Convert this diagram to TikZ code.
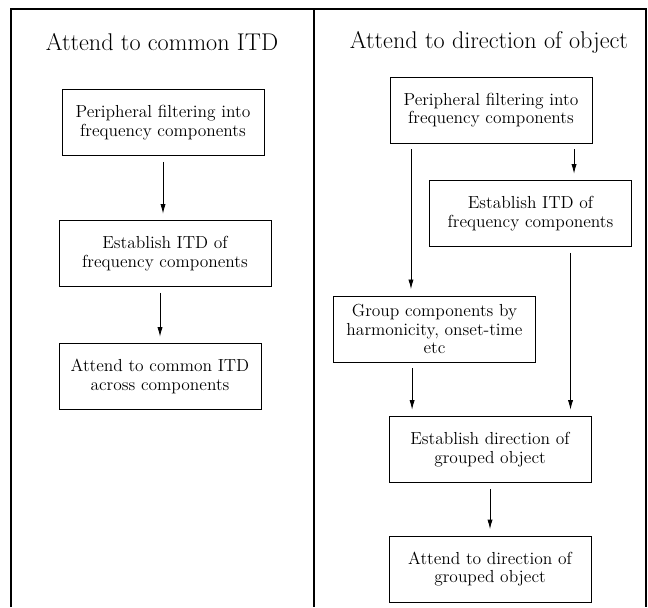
\documentclass[tikz,border=0pt]{standalone}
\usepackage{tikz}
\usetikzlibrary{arrows.meta,calc}

\tikzset{
  box/.style={draw, line width=0.6pt, align=center, minimum width=5.05cm,
    minimum height=1.65cm, inner sep=2pt, font=\fontsize{12.4}{13.2}\selectfont},
  arr/.style={-{Latex[length=2.4mm,width=1.3mm]}, line width=0.6pt,
    shorten <=1.5mm, shorten >=1.6mm},
  ttl/.style={font=\fontsize{17.2}{20}\selectfont}
}

\begin{document}
\begin{tikzpicture}[x=0.025cm, y=-0.025cm]
  \useasboundingbox (0,0) rectangle (648,607);
              %frame
  \coordinate (FA) at (11,607);
  \coordinate (FB) at (11,9);
  \coordinate (FC) at (646,9);
  \coordinate (FD) at (646,607);
  \coordinate (FE) at (314,9);
  \coordinate (FF) at (314,607);
  \draw[line width=0.9pt] (FA) -- (FB) -- (FC) -- (FD);
  \draw[line width=0.9pt] (FE) -- (FF);

   %common ITD

  \node[ttl] (Ltitle) at (162,42) {Attend to common ITD};
  \node[box, minimum width=5.05cm] (Lfilt) at (163,122.5)
    {Peripheral filtering into\\frequency components};
  \node[box, minimum width=5.3cm] (Litd) at (165,253.5)
    {Establish ITD of\\frequency components};
  \node[box] (Lcommon) at (160,376.5)
    {Attend to common ITD\\across components};
  \draw[arr] (Lfilt) -- (Lfilt |- Litd.north);
  \draw[arr] (Litd.south -| Lcommon) -- (Lcommon);

%direction of object

  \node[ttl] (Rtitle) at (489,42) {Attend to direction of object};
  \node[box] (Rfilt) at (491,110)
    {Peripheral filtering into\\frequency components};
  \node[box] (Ritd) at (530.5,213.5)
    {Establish ITD of\\frequency components};
  \node[box] (Rgroup) at (434.5,329)
    {Group components by\\harmonicity, onset-time\\etc};
  \node[box] (Rdir) at (490,449.5)
    {Establish direction of\\grouped object};
  \node[box] (Rattend) at (490,569)
    {Attend to direction of\\grouped object};

  \draw[arr] ([xshift=-2cm]Rfilt.south) -- ([xshift=-2cm]Rfilt.south |- Rgroup.north);
  \draw[arr] ([xshift=2.075cm]Rfilt.south) -- ([xshift=2.075cm]Rfilt.south |- Ritd.north);
  \draw[arr] ([xshift=1cm]Ritd.south) -- ([xshift=1cm]Ritd.south |- Rdir.north);
  \draw[arr] ([xshift=-0.56cm]Rgroup.south) -- ([xshift=-0.56cm]Rgroup.south |- Rdir.north);
  \draw[arr] (Rdir) -- (Rattend);

\end{tikzpicture}
\end{document}
